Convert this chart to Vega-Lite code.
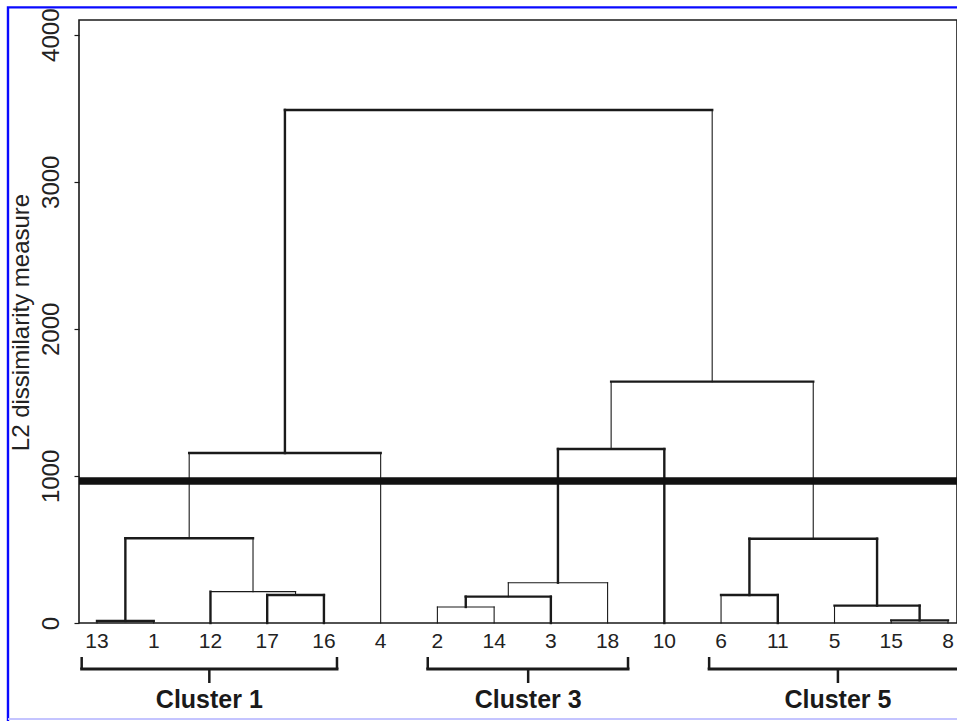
{
  "$schema": "https://vega.github.io/schema/vega-lite/v6.json",
  "width": 878,
  "height": 603,
  "autosize": {"type": "none"},
  "padding": {"left": 79, "top": 20, "right": 0, "bottom": 98},
  "background": "white",
  "config": {
    "view": {"stroke": "#1a1a1a", "strokeWidth": 1.6},
    "font": "Liberation Sans",
    "axisY": {
      "domain": false, "grid": false,
      "ticks": true, "tickSize": 5, "tickColor": "#1a1a1a", "tickWidth": 1.2,
      "labelAngle": -90, "labelFontSize": 24, "labelFont": "Liberation Sans",
      "labelColor": "#222", "labelPadding": 16, "labelBaseline": "alphabetic",
      "labelAlign": "center", "labelOverlap": false,
      "titleFontSize": 24, "titleFont": "Liberation Sans", "titleFontWeight": "normal",
      "titleColor": "#222", "titleAngle": -90, "titleX": -51, "titleY": 302,
      "titleAlign": "center", "titleBaseline": "alphabetic"
    }
  },
  "datasets": {
    "segments": [
      {"x1": 1, "x2": 1, "y1": 0, "y2": 14, "w": "thin"},
      {"x1": 2, "x2": 2, "y1": 0, "y2": 14, "w": "thin"},
      {"x1": 1, "x2": 2, "y1": 14, "y2": 14, "w": "thick"},
      {"x1": 4, "x2": 4, "y1": 0, "y2": 190, "w": "thick"},
      {"x1": 5, "x2": 5, "y1": 0, "y2": 190, "w": "thick"},
      {"x1": 4, "x2": 5, "y1": 190, "y2": 190, "w": "thick"},
      {"x1": 3, "x2": 3, "y1": 0, "y2": 213, "w": "thick"},
      {"x1": 4.5, "x2": 4.5, "y1": 190, "y2": 213, "w": "thin"},
      {"x1": 3, "x2": 4.5, "y1": 213, "y2": 213, "w": "thin"},
      {"x1": 1.5, "x2": 1.5, "y1": 14, "y2": 576, "w": "thick"},
      {"x1": 3.75, "x2": 3.75, "y1": 213, "y2": 576, "w": "thin"},
      {"x1": 1.5, "x2": 3.75, "y1": 576, "y2": 576, "w": "thick"},
      {"x1": 2.625, "x2": 2.625, "y1": 576, "y2": 1156, "w": "thin"},
      {"x1": 6, "x2": 6, "y1": 0, "y2": 1156, "w": "thin"},
      {"x1": 2.625, "x2": 6, "y1": 1156, "y2": 1156, "w": "thick"},
      {"x1": 4.3125, "x2": 4.3125, "y1": 1156, "y2": 3488, "w": "thick"},
      {"x1": 7, "x2": 7, "y1": 0, "y2": 109, "w": "thin"},
      {"x1": 8, "x2": 8, "y1": 0, "y2": 109, "w": "thin"},
      {"x1": 7, "x2": 8, "y1": 109, "y2": 109, "w": "thin"},
      {"x1": 7.5, "x2": 7.5, "y1": 109, "y2": 179, "w": "thick"},
      {"x1": 9, "x2": 9, "y1": 0, "y2": 179, "w": "thick"},
      {"x1": 7.5, "x2": 9, "y1": 179, "y2": 179, "w": "thick"},
      {"x1": 8.25, "x2": 8.25, "y1": 179, "y2": 274, "w": "thin"},
      {"x1": 10, "x2": 10, "y1": 0, "y2": 274, "w": "thin"},
      {"x1": 8.25, "x2": 10, "y1": 274, "y2": 274, "w": "thin"},
      {"x1": 9.125, "x2": 9.125, "y1": 274, "y2": 1183, "w": "thick"},
      {"x1": 11, "x2": 11, "y1": 0, "y2": 1183, "w": "thick"},
      {"x1": 9.125, "x2": 11, "y1": 1183, "y2": 1183, "w": "thick"},
      {"x1": 12, "x2": 12, "y1": 0, "y2": 190, "w": "thin"},
      {"x1": 13, "x2": 13, "y1": 0, "y2": 190, "w": "thick"},
      {"x1": 12, "x2": 13, "y1": 190, "y2": 190, "w": "thick"},
      {"x1": 15, "x2": 15, "y1": 0, "y2": 18, "w": "thin"},
      {"x1": 16, "x2": 16, "y1": 0, "y2": 18, "w": "thin"},
      {"x1": 15, "x2": 16, "y1": 18, "y2": 18, "w": "thick"},
      {"x1": 14, "x2": 14, "y1": 0, "y2": 118, "w": "thin"},
      {"x1": 15.5, "x2": 15.5, "y1": 18, "y2": 118, "w": "thick"},
      {"x1": 14, "x2": 15.5, "y1": 118, "y2": 118, "w": "thick"},
      {"x1": 12.5, "x2": 12.5, "y1": 190, "y2": 573, "w": "thick"},
      {"x1": 14.75, "x2": 14.75, "y1": 118, "y2": 573, "w": "thick"},
      {"x1": 12.5, "x2": 14.75, "y1": 573, "y2": 573, "w": "thick"},
      {"x1": 10.0625, "x2": 10.0625, "y1": 1183, "y2": 1641, "w": "thin"},
      {"x1": 13.625, "x2": 13.625, "y1": 573, "y2": 1641, "w": "thin"},
      {"x1": 10.0625, "x2": 13.625, "y1": 1641, "y2": 1641, "w": "thick"},
      {"x1": 11.84375, "x2": 11.84375, "y1": 1641, "y2": 3488, "w": "thin"},
      {"x1": 4.3125, "x2": 11.84375, "y1": 3488, "y2": 3488, "w": "thick"}
    ],
    "leaves": [
      {"pos": 1, "leaf": "13"}, {"pos": 2, "leaf": "1"}, {"pos": 3, "leaf": "12"},
      {"pos": 4, "leaf": "17"}, {"pos": 5, "leaf": "16"}, {"pos": 6, "leaf": "4"},
      {"pos": 7, "leaf": "2"}, {"pos": 8, "leaf": "14"}, {"pos": 9, "leaf": "3"},
      {"pos": 10, "leaf": "18"}, {"pos": 11, "leaf": "10"}, {"pos": 12, "leaf": "6"},
      {"pos": 13, "leaf": "11"}, {"pos": 14, "leaf": "5"}, {"pos": 15, "leaf": "15"},
      {"pos": 16, "leaf": "8"}
    ],
    "clusters": [
      {"cluster": "Cluster 1", "lo": 0.73, "hi": 5.23, "mid": 2.98},
      {"cluster": "Cluster 3", "lo": 6.83, "hi": 10.36, "mid": 8.6},
      {"cluster": "Cluster 5", "lo": 11.79, "hi": 16.33, "mid": 14.06}
    ],
    "cut": [{"level": 965}]
  },
  "layer": [
    {
      "data": {"name": "segments"},
      "mark": {"type": "rule", "color": "#1a1a1a", "strokeCap": "square"},
      "encoding": {
        "x": {"field": "x1", "type": "quantitative", "scale": {"domain": [0.6827, 16.159], "nice": false, "zero": false}, "axis": null},
        "x2": {"field": "x2"},
        "y": {
          "field": "y1", "type": "quantitative",
          "scale": {"domain": [0, 4100], "nice": false, "zero": false},
          "title": "L2 dissimilarity measure",
          "axis": {"values": [0, 1000, 2000, 3000, 4000], "format": "d"}
        },
        "y2": {"field": "y2"},
        "strokeWidth": {"field": "w", "type": "nominal", "scale": {"domain": ["thin", "thick"], "range": [1.1, 2.4]}, "legend": null}
      }
    },
    {
      "data": {"name": "cut"},
      "mark": {"type": "rule", "color": "#111", "strokeWidth": 7.5},
      "encoding": {
        "y": {"field": "level", "type": "quantitative", "title": "L2 dissimilarity measure"}
      }
    },
    {
      "data": {"name": "leaves"},
      "mark": {"type": "text", "fontSize": 21, "font": "Liberation Sans", "color": "#222", "baseline": "middle", "dy": 19},
      "encoding": {
        "x": {"field": "pos", "type": "quantitative", "axis": null},
        "y": {"datum": 0, "type": "quantitative", "title": "L2 dissimilarity measure"},
        "text": {"field": "leaf"}
      }
    },
    {
      "data": {"name": "clusters"},
      "mark": {"type": "rule", "color": "#1a1a1a", "strokeWidth": 3, "strokeCap": "square"},
      "encoding": {
        "x": {"field": "lo", "type": "quantitative", "axis": null},
        "x2": {"field": "hi"},
        "y": {"datum": -313, "type": "quantitative", "title": "L2 dissimilarity measure"}
      }
    },
    {
      "data": {"name": "clusters"},
      "mark": {"type": "rule", "color": "#1a1a1a", "strokeWidth": 2.5},
      "encoding": {
        "x": {"field": "lo", "type": "quantitative", "axis": null},
        "y": {"datum": -231, "type": "quantitative", "title": "L2 dissimilarity measure"},
        "y2": {"datum": -313}
      }
    },
    {
      "data": {"name": "clusters"},
      "mark": {"type": "rule", "color": "#1a1a1a", "strokeWidth": 2.5},
      "encoding": {
        "x": {"field": "hi", "type": "quantitative", "axis": null},
        "y": {"datum": -231, "type": "quantitative", "title": "L2 dissimilarity measure"},
        "y2": {"datum": -313}
      }
    },
    {
      "data": {"name": "clusters"},
      "mark": {"type": "rule", "color": "#1a1a1a", "strokeWidth": 2.5},
      "encoding": {
        "x": {"field": "mid", "type": "quantitative", "axis": null},
        "y": {"datum": -313, "type": "quantitative", "title": "L2 dissimilarity measure"},
        "y2": {"datum": -408}
      }
    },
    {
      "data": {"name": "clusters"},
      "mark": {"type": "text", "fontSize": 25, "fontWeight": "bold", "font": "Liberation Sans", "color": "#1a1a1a", "baseline": "middle"},
      "encoding": {
        "x": {"field": "mid", "type": "quantitative", "axis": null},
        "y": {"datum": -524, "type": "quantitative", "title": "L2 dissimilarity measure"},
        "text": {"field": "cluster"}
      }
    },
    {
      "data": {"values": [{}]},
      "mark": {"type": "rect", "fill": null, "stroke": "#0a0aff", "strokeWidth": 2.4},
      "encoding": {
        "x": {"datum": -0.569, "type": "quantitative", "axis": null},
        "x2": {"datum": 17.5},
        "y": {"datum": 4186, "type": "quantitative", "title": "L2 dissimilarity measure"},
        "y2": {"datum": -720}
      }
    },
    {
      "data": {"values": [{}]},
      "mark": {"type": "rule", "stroke": "#c4c4ff", "strokeWidth": 2},
      "encoding": {
        "x": {"datum": -0.569, "type": "quantitative", "axis": null},
        "x2": {"datum": 17.5},
        "y": {"datum": -653, "type": "quantitative", "title": "L2 dissimilarity measure"}
      }
    }
  ]
}
